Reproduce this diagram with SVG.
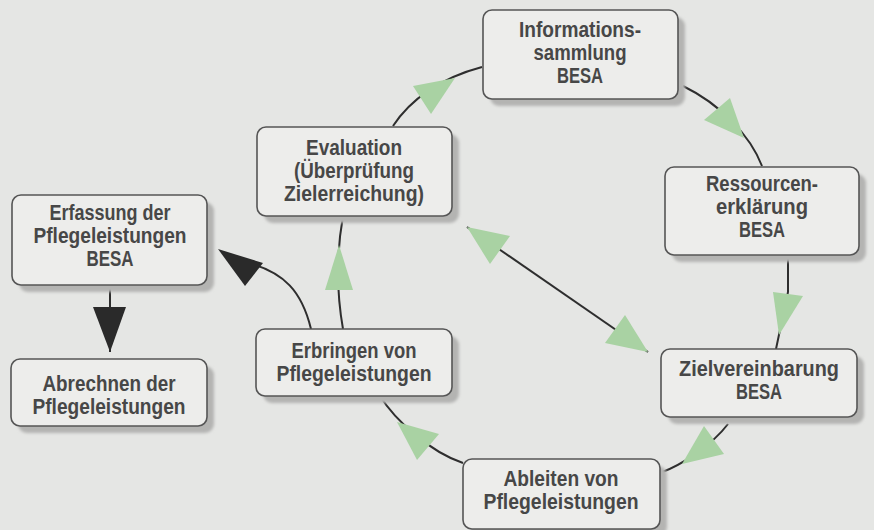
<svg xmlns="http://www.w3.org/2000/svg" width="874" height="530" viewBox="0 0 874 530">
<defs>
<filter id="blur" x="-10%" y="-10%" width="120%" height="120%"><feGaussianBlur stdDeviation="1.5"/></filter>
<style>
.box{fill:#ededeb;stroke:#555;stroke-width:1.6}
.sh{fill:#b4b4b2;filter:url(#blur)}
.t{font-family:"Liberation Sans Narrow","Liberation Sans",Arial,sans-serif;font-weight:bold;font-size:22px;fill:#474747;text-anchor:middle}
.ln{fill:none;stroke:#2e2e2e;stroke-width:2}
.g{fill:#a9d2a3}
.k{fill:#2a2a2a}
</style>
</defs>
<rect width="874" height="530" fill="#e5e6e4"/>

<g id="connectors">
<path class="ln" d="M393,126 C410,100 440,78 482,67"/>
<path class="ln" d="M683,86 C720,104 750,135 762,166"/>
<path class="ln" d="M788,256 L788,292 L776,349"/>
<path class="ln" d="M467,227 L648,352"/>
<path class="ln" d="M728,424 C712,445 682,465 660,473"/>
<path class="ln" d="M380,396 C395,420 430,452 463,463"/>
<path class="ln" d="M343,329 Q333,272 343,216"/>
<path class="ln" d="M311,329 C302,292 285,272 245,262"/>
<path class="ln" d="M110,285 L110,352"/>
<polygon class="g" points="455,78 431,114 413,86"/>
<polygon class="g" points="744,138 704,120 730,98"/>
<polygon class="g" points="773,292 803,296 779,335"/>
<polygon class="g" points="467,227 490,264 510,236"/>
<polygon class="g" points="648,352 605,343 625,315"/>
<polygon class="g" points="682,464 704,426 724,454"/>
<polygon class="g" points="397,422 439,434 417,460"/>
<polygon class="g" points="339,245 325,290 353,290"/>
<polygon class="k" points="218,249 263,263 245,286"/>
<polygon class="k" points="93,307 126,307 110,352"/>
</g>

<g id="informationssammlung">
<rect class="sh" x="490" y="17" width="195" height="89" rx="9"/>
<rect class="box" x="483" y="10" width="195" height="89" rx="9"/>
<text class="t" x="580" y="37" textLength="122" lengthAdjust="spacingAndGlyphs">Informations-</text>
<text class="t" x="580" y="60" textLength="93" lengthAdjust="spacingAndGlyphs">sammlung</text>
<text class="t" x="580" y="83" textLength="46" lengthAdjust="spacingAndGlyphs">BESA</text>
</g>

<g id="ressourcenerklaerung">
<rect class="sh" x="672" y="174" width="194" height="88" rx="9"/>
<rect class="box" x="665" y="167" width="194" height="88" rx="9"/>
<text class="t" x="762" y="191" textLength="112" lengthAdjust="spacingAndGlyphs">Ressourcen-</text>
<text class="t" x="762" y="214" textLength="92" lengthAdjust="spacingAndGlyphs">erklärung</text>
<text class="t" x="762" y="237" textLength="46" lengthAdjust="spacingAndGlyphs">BESA</text>
</g>

<g id="zielvereinbarung">
<rect class="sh" x="668" y="356" width="196" height="68" rx="9"/>
<rect class="box" x="661" y="349" width="196" height="68" rx="9"/>
<text class="t" x="759" y="376" textLength="160" lengthAdjust="spacingAndGlyphs">Zielvereinbarung</text>
<text class="t" x="759" y="399" textLength="46" lengthAdjust="spacingAndGlyphs">BESA</text>
</g>

<g id="ableiten">
<rect class="sh" x="470" y="466" width="197" height="70" rx="9"/>
<rect class="box" x="463" y="459" width="197" height="70" rx="9"/>
<text class="t" x="561" y="486" textLength="115" lengthAdjust="spacingAndGlyphs">Ableiten von</text>
<text class="t" x="561" y="509" textLength="155" lengthAdjust="spacingAndGlyphs">Pflegeleistungen</text>
</g>

<g id="erbringen">
<rect class="sh" x="263" y="336" width="196" height="67" rx="9"/>
<rect class="box" x="256" y="329" width="196" height="67" rx="9"/>
<text class="t" x="354" y="358" textLength="125" lengthAdjust="spacingAndGlyphs">Erbringen von</text>
<text class="t" x="354" y="381" textLength="155" lengthAdjust="spacingAndGlyphs">Pflegeleistungen</text>
</g>

<g id="evaluation">
<rect class="sh" x="264" y="134" width="195" height="89" rx="9"/>
<rect class="box" x="257" y="127" width="195" height="89" rx="9"/>
<text class="t" x="354" y="155" textLength="96" lengthAdjust="spacingAndGlyphs">Evaluation</text>
<text class="t" x="354" y="178" textLength="120" lengthAdjust="spacingAndGlyphs">(Überprüfung</text>
<text class="t" x="354" y="201" textLength="140" lengthAdjust="spacingAndGlyphs">Zielerreichung)</text>
</g>

<g id="erfassung">
<rect class="sh" x="19" y="202" width="195" height="90" rx="9"/>
<rect class="box" x="12" y="195" width="195" height="90" rx="9"/>
<text class="t" x="110" y="220" textLength="121" lengthAdjust="spacingAndGlyphs">Erfassung der</text>
<text class="t" x="110" y="243" textLength="153" lengthAdjust="spacingAndGlyphs">Pflegeleistungen</text>
<text class="t" x="110" y="266" textLength="47" lengthAdjust="spacingAndGlyphs">BESA</text>
</g>

<g id="abrechnen">
<rect class="sh" x="18" y="366" width="196" height="67" rx="9"/>
<rect class="box" x="11" y="359" width="196" height="67" rx="9"/>
<text class="t" x="109" y="391" textLength="133" lengthAdjust="spacingAndGlyphs">Abrechnen der</text>
<text class="t" x="109" y="414" textLength="153" lengthAdjust="spacingAndGlyphs">Pflegeleistungen</text>
</g>
</svg>
